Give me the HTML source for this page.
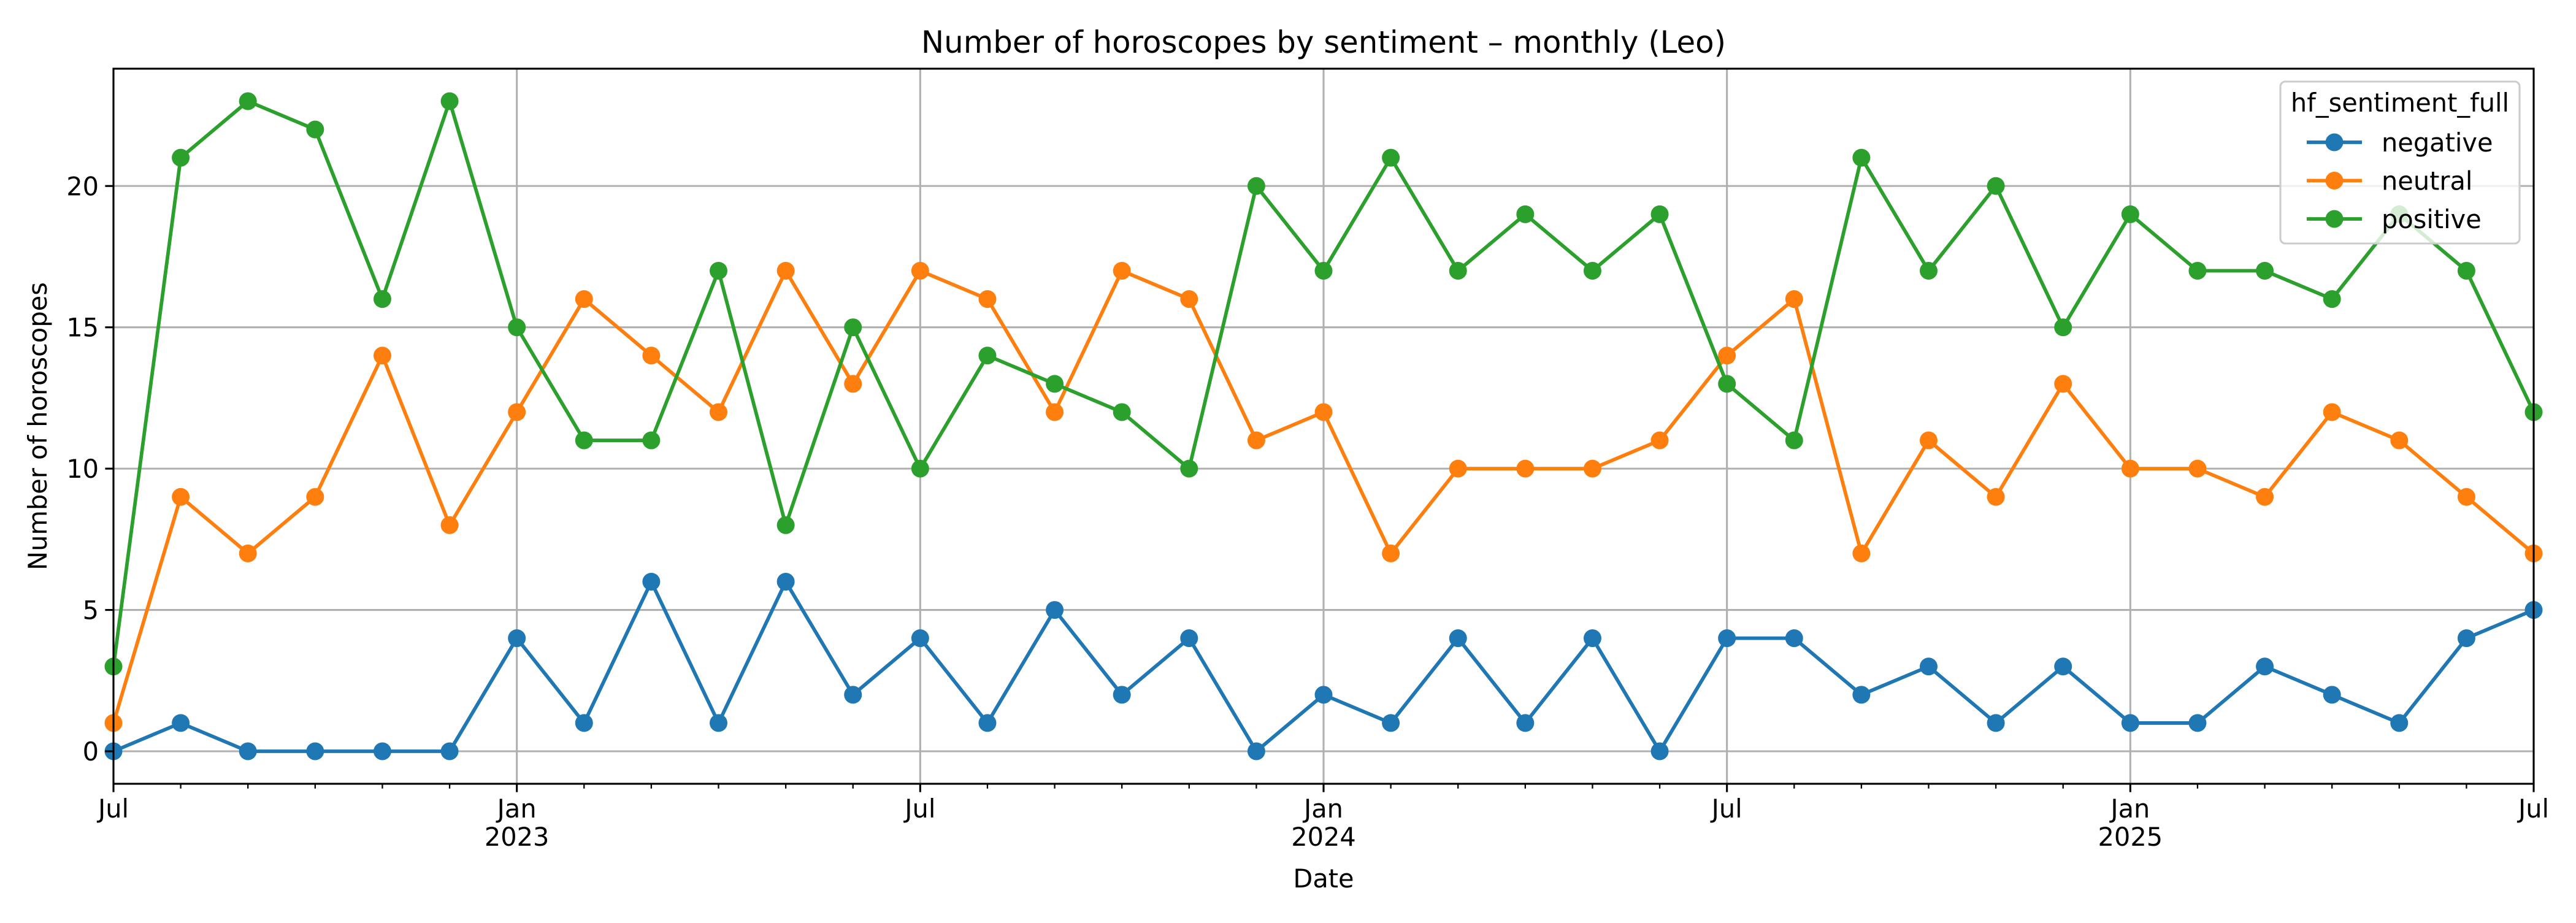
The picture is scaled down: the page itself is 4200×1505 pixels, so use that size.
<!DOCTYPE html>
<html><head><meta charset="utf-8"><style>
html,body{margin:0;padding:0;background:#fff;}
svg text{font-family:"DejaVu Sans","Liberation Sans",sans-serif;fill:#000;}
</style></head><body>
<svg id="chart" xmlns="http://www.w3.org/2000/svg" width="4200" height="1500" viewBox="0 0 4200 1500">
<rect width="4200" height="1500" fill="#fff"/>
<g id="grid"></g>
<g id="series"></g>
<rect x="185" y="112" width="3946" height="1166" fill="none" stroke="#000" stroke-width="3.1"/>
<g id="ticks"></g>
<text x="2158" y="86" font-size="49.8" text-anchor="middle">Number of horoscopes by sentiment – monthly (Leo)</text>
<text x="2158" y="1447" font-size="41.5" text-anchor="middle">Date</text>
<text transform="translate(76,695) rotate(-90)" font-size="41.5" text-anchor="middle">Number of horoscopes</text>
<g id="legend"></g>
</svg>
<script>
const months = 37; // Jul 2022 .. Jul 2025
const seriesNames = ["negative","neutral","positive"];
const colors = ["#1f77b4","#ff7f0e","#2ca02c"];
const negative = [0,1,0,0,0,0,4,1,6,1,6,2,4,1,5,2,4,0,2,1,4,1,4,0,4,4,2,3,1,3,1,1,3,2,1,4,5];
const neutral = [1,9,7,9,14,8,12,16,14,12,17,13,17,16,12,17,16,11,12,7,10,10,10,11,14,16,7,11,9,13,10,10,9,12,11,9,7];
const positive = [3,21,23,22,16,23,15,11,11,17,8,15,10,14,13,12,10,20,17,21,17,19,17,19,13,11,21,17,20,15,19,17,17,16,19,17,12];
const yTicks = [0,5,10,15,20];
const xMajorIdx = [0,6,12,18,24,30,36];
const xMajorLabels = ["Jul","Jan","Jul","Jan","Jul","Jan","Jul"];
const xYearLabels = ["","2023","","2024","","2025",""];

const NS="http://www.w3.org/2000/svg";
const L=185,R=4131,T=112,B=1278,yMin=-1.15,yMax=24.15;
const FS=41.5;
const xs=i=>L+(R-L)*i/(months-1);
const ys=v=>B-(v-yMin)/(yMax-yMin)*(B-T);
function mk(tag,attrs,parent){const e=document.createElementNS(NS,tag);for(const k in attrs)e.setAttribute(k,attrs[k]);parent.appendChild(e);return e;}
const grid=document.getElementById('grid'),ticks=document.getElementById('ticks'),ser=document.getElementById('series'),leg=document.getElementById('legend');

yTicks.forEach(v=>{
  const g=mk('line',{x1:L,x2:R,y1:ys(v),y2:ys(v),stroke:'#b0b0b0','stroke-width':3.1},grid);
  
  
  const t=mk('line',{x1:L-13.6,x2:L,y1:ys(v),y2:ys(v),stroke:'#000','stroke-width':3.1},ticks);
  
  
  const tx=mk('text',{x:L-24,y:ys(v)+15,'font-size':FS,'text-anchor':'end'},ticks);
  tx.textContent=v;
  
  
});
for(let i=0;i<months;i++){
  const major=xMajorIdx.indexOf(i);
  if(major>=0){
    const g=mk('line',{x1:xs(i),x2:xs(i),y1:T,y2:B,stroke:'#b0b0b0','stroke-width':3.1},grid);
    
    
    const t=mk('line',{x1:xs(i),x2:xs(i),y1:B,y2:B+13.6,stroke:'#000','stroke-width':3.1},ticks);
    
    
    const tx=mk('text',{x:xs(i),y:B+55,'font-size':FS,'text-anchor':'middle'},ticks);
    tx.textContent=xMajorLabels[major];
    
    
    if(xYearLabels[major]){
      const ty=mk('text',{x:xs(i),y:B+101,'font-size':FS,'text-anchor':'middle'},ticks);
      ty.textContent=xYearLabels[major];
      
      
    }
  } else {
    const t=mk('line',{x1:xs(i),x2:xs(i),y1:B,y2:B+7.8,stroke:'#000','stroke-width':2.3},ticks);
    
    
  }
}
[negative,neutral,positive].forEach((arr,si)=>{
  const g=mk('g',{},ser);
  
  
  const pl=mk('polyline',{points:arr.map((v,i)=>xs(i)+','+ys(v)).join(' '),fill:'none',stroke:colors[si],'stroke-width':5.8,'stroke-linejoin':'round'},g);
  
  
  arr.forEach((v,i)=>{
    const c=mk('circle',{cx:xs(i),cy:ys(v),r:14.5,fill:colors[si]},g);
    
    
  });
});
const box=mk('rect',{x:3718,y:133,width:390,height:264,rx:8,fill:'#fff','fill-opacity':0.8,stroke:'#cccccc','stroke-width':3.1},leg);


const lt=mk('text',{x:3913,y:182,'font-size':FS,'text-anchor':'middle'},leg);
lt.textContent='hf_sentiment_full';


seriesNames.forEach((n,si)=>{
  const cy=232+si*62.5;
  const g=mk('g',{},leg);
  
  
  mk('line',{x1:3761,x2:3851,y1:cy,y2:cy,stroke:colors[si],'stroke-width':5.8},g);
  mk('circle',{cx:3806,cy:cy,r:14.5,fill:colors[si]},g);
  const t=mk('text',{x:3883,y:cy+15,'font-size':FS},g);
  t.textContent=n;
});
</script>
</body></html>
